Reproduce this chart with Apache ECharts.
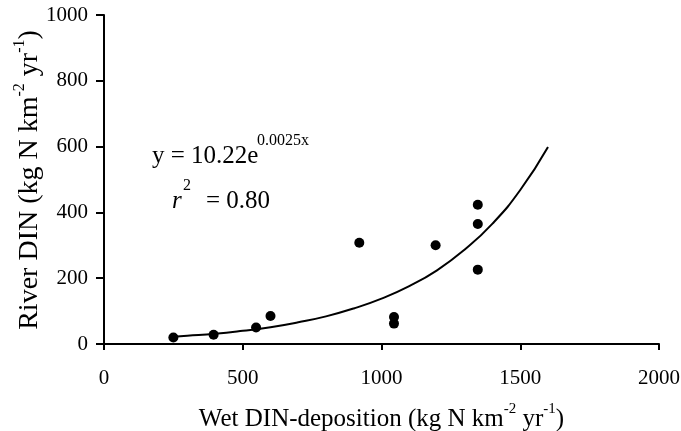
<!DOCTYPE html>
<html>
<head>
<meta charset="utf-8">
<script src="https://cdn.jsdelivr.net/npm/echarts@6/dist/echarts.min.js"></script>
<style>
html,body{margin:0;padding:0;background:#fff;}
#c{width:681px;height:431px;}
</style>
</head>
<body>
<div id="c"></div>
<script>
// Observed points: [wet DIN deposition, river DIN]
const depX = [250, 395, 548, 600, 920, 1045, 1045, 1195, 1347, 1347, 1347];
const rivY = [20, 28, 50, 85, 308, 82, 62, 300, 423, 365, 226];
// Fitted exponential curve
const curveX = [250, 300, 400, 500, 600, 700, 800, 900, 1000, 1100, 1200, 1300, 1400, 1500, 1600];
const curveY = [22, 25, 31, 40, 51, 66, 84, 108, 138, 176, 224, 287, 366, 468, 599];
const xTicks = [0, 500, 1000, 1500, 2000];
const yTicks = [0, 200, 400, 600, 800, 1000];

const serif = '"Liberation Serif","Times New Roman",serif';
const scatterData = depX.map((x, i) => [x, rivY[i]]);
const curveData = curveX.map((x, i) => [x, curveY[i]]);

const chart = echarts.init(document.getElementById('c'), null, {renderer: 'canvas'});
const labelStyle = {color: '#000', fontFamily: serif, fontSize: 21, formatter: v => String(v)};
function nameRich(size, supSize, lh) {
  return {
    m: {fontFamily: serif, fontSize: size, fill: '#000', color: '#000', lineHeight: lh, verticalAlign: 'bottom'},
    s: {fontFamily: serif, fontSize: supSize, fill: '#000', color: '#000', lineHeight: supSize, verticalAlign: 'top'}
  };
}
function txt(x, y, text, size, italic) {
  return {
    type: 'text', x: x, y: y, z: 10,
    style: {
      text: text, fill: '#000',
      font: (italic ? 'italic ' : '') + size + 'px ' + serif,
      align: 'left', verticalAlign: 'middle',
      textAlign: 'left', textVerticalAlign: 'middle'
    }
  };
}
chart.setOption({
  animation: false,
  backgroundColor: '#fff',
  grid: {left: 104, right: 22, top: 15, bottom: 87, containLabel: false, outerBoundsMode: 'none'},
  xAxis: {
    type: 'value', min: xTicks[0], max: xTicks[xTicks.length - 1], interval: 500,
    axisLine: {show: true, lineStyle: {color: '#000', width: 2}},
    axisTick: {show: true, inside: false, length: 6, lineStyle: {color: '#000', width: 2}},
    splitLine: {show: false},
    axisLabel: Object.assign({}, labelStyle, {margin: 24}),
    name: '{m|Wet DIN-deposition (kg N km}{s|-2}{m| yr}{s|-1}{m|)}',
    nameLocation: 'middle', nameGap: 58, nameMoveOverlap: false,
    nameTextStyle: {color: '#000', fontFamily: serif, fontSize: 25, rich: nameRich(25, 15, 30)}
  },
  yAxis: {
    type: 'value', min: yTicks[0], max: yTicks[yTicks.length - 1], interval: 200,
    axisLine: {show: true, lineStyle: {color: '#000', width: 2}},
    axisTick: {show: true, inside: false, length: 8, lineStyle: {color: '#000', width: 2}},
    splitLine: {show: false},
    axisLabel: Object.assign({}, labelStyle, {margin: 16})
  },
  series: [
    {
      type: 'line', data: curveData, smooth: true, showSymbol: false, symbol: 'none',
      lineStyle: {color: '#000', width: 2}, z: 2
    },
    {
      type: 'scatter', data: scatterData, symbol: 'circle', symbolSize: 10,
      itemStyle: {color: '#000', opacity: 1}, z: 3
    }
  ],
  graphic: [
    {
      type: 'text', x: 28, y: 180, rotation: Math.PI / 2, z: 10,
      style: {
        text: '{m|River DIN (kg N km}{s|-2}{m| yr}{s|-1}{m|)}',
        rich: nameRich(28, 16, 32),
        fill: '#000', font: '28px ' + serif,
        align: 'center', verticalAlign: 'middle',
        textAlign: 'center', textVerticalAlign: 'middle'
      }
    },
    txt(152, 156.5, 'y = 10.22e', 25, false),
    txt(257, 141, '0.0025x', 16, false),
    txt(172, 201, 'r', 25, true),
    txt(183, 186, '2', 16, false),
    txt(206, 201, '= 0.80', 25, false)
  ]
});
</script>
</body>
</html>
